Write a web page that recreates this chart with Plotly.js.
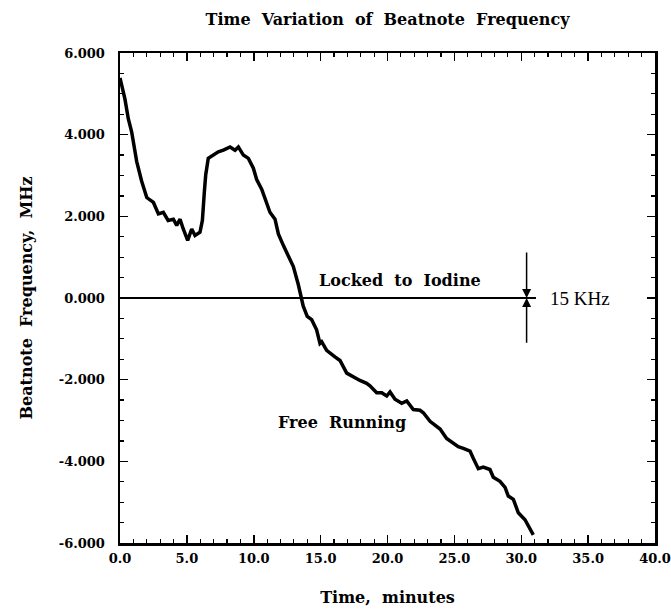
<!DOCTYPE html>
<html>
<head>
<meta charset="utf-8">
<script src="https://cdn.plot.ly/plotly-3.0.1.min.js"></script>
<style>html,body{margin:0;padding:0;background:#fff;}#chart{width:671px;height:612px;}</style>
</head>
<body>
<div id="chart"></div>
<script>
// Time in minutes
const timeMin = [0.0, 0.37, 0.62, 0.87, 1.25, 1.62, 2.0, 2.5, 2.87, 3.24, 3.6, 3.99, 4.24, 4.49, 4.73, 5.06, 5.36, 5.61, 5.98, 6.16, 6.31, 6.41, 6.6, 6.98, 7.35, 7.73, 8.23, 8.6, 8.85, 9.22, 9.6, 9.97, 10.22, 10.6, 10.84, 11.21, 11.59, 11.84, 12.21, 12.59, 12.96, 13.33, 13.58, 13.7, 14.0, 14.33, 14.7, 14.95, 15.08, 15.45, 16.07, 16.45, 16.95, 17.44, 17.94, 18.44, 18.69, 19.19, 19.57, 19.94, 20.19, 20.56, 21.06, 21.44, 21.93, 22.43, 22.68, 23.18, 23.93, 24.42, 24.92, 25.29, 25.67, 26.17, 26.42, 26.79, 27.16, 27.66, 27.91, 28.41, 28.79, 29.03, 29.41, 29.78, 30.28, 30.53, 30.9];
// Free-running beatnote frequency, MHz
const freeRunning = [5.39, 4.87, 4.39, 4.07, 3.34, 2.86, 2.46, 2.34, 2.06, 2.10, 1.90, 1.93, 1.78, 1.93, 1.69, 1.41, 1.69, 1.53, 1.61, 1.90, 2.62, 3.02, 3.42, 3.50, 3.58, 3.62, 3.70, 3.62, 3.70, 3.50, 3.42, 3.18, 2.90, 2.66, 2.42, 2.10, 1.93, 1.57, 1.29, 1.05, 0.77, 0.33, 0.01, -0.20, -0.45, -0.53, -0.78, -1.11, -1.07, -1.28, -1.44, -1.53, -1.84, -1.94, -2.02, -2.09, -2.15, -2.32, -2.32, -2.40, -2.30, -2.48, -2.58, -2.52, -2.73, -2.75, -2.81, -3.02, -3.21, -3.44, -3.56, -3.64, -3.68, -3.75, -3.93, -4.18, -4.14, -4.20, -4.39, -4.49, -4.64, -4.85, -4.93, -5.26, -5.43, -5.59, -5.80];
// Locked to iodine
const lockedTime = [0.0, 31.1];
const lockedFreq = [0.0, 0.0];
// Ticks
const xTickVals = [0, 5, 10, 15, 20, 25, 30, 35, 40];
const xTickText = ["0.0", "5.0", "10.0", "15.0", "20.0", "25.0", "30.0", "35.0", "40.0"];
const yTickVals = [-6, -4, -2, 0, 2, 4, 6];
const yTickText = ["-6.000", "-4.000", "-2.000", "0.000", "2.000", "4.000", "6.000"];

const boldFont = {family: "DejaVu Serif", size: 16, color: "#000", weight: 700};
const tickFont = {family: "DejaVu Serif", size: 13, color: "#000", weight: 700};

const traces = [
  {x: timeMin, y: freeRunning, mode: "lines", line: {color: "#000", width: 3.5}, hoverinfo: "skip", showlegend: false},
  {x: lockedTime, y: lockedFreq, mode: "lines", line: {color: "#000", width: 2}, hoverinfo: "skip", showlegend: false}
];

const layout = {
  width: 671, height: 612,
  margin: {l: 120, r: 16, t: 53, b: 69},
  paper_bgcolor: "#fff", plot_bgcolor: "#fff",
  showlegend: false,
  title: {text: "Time  Variation  of  Beatnote  Frequency", font: boldFont, x: 0.5, xref: "paper", xanchor: "center", y: 1 - 19/612, yref: "container", yanchor: "middle"},
  xaxis: {
    range: [0, 40], tickvals: xTickVals, ticktext: xTickText,
    ticks: "inside", ticklen: 8, tickwidth: 1.5, tickcolor: "#000",
    minor: {dtick: 1, ticks: "inside", ticklen: 4, tickwidth: 1.2, tickcolor: "#000"},
    showline: true, linecolor: "#000", linewidth: 2.5, mirror: "ticks",
    showgrid: false, zeroline: false, tickfont: tickFont, ticklabelstandoff: 2,
    title: {text: "Time,  minutes", font: boldFont, standoff: 27}
  },
  yaxis: {
    range: [-6, 6], tickvals: yTickVals, ticktext: yTickText,
    ticks: "inside", ticklen: 8, tickwidth: 1.5, tickcolor: "#000",
    minor: {dtick: 0.5, ticks: "inside", ticklen: 4, tickwidth: 1.2, tickcolor: "#000"},
    showline: true, linecolor: "#000", linewidth: 2.5, mirror: "ticks",
    showgrid: false, zeroline: false, tickfont: tickFont, ticklabelstandoff: 10,
    title: {text: "Beatnote  Frequency,  MHz", font: boldFont, standoff: 22}
  },
  annotations: [
    {x: 20.9, y: 0, xref: "x", yref: "y", yshift: 18, text: "Locked  to  Iodine", showarrow: false, font: boldFont, xanchor: "center", yanchor: "middle"},
    {x: 16.6, y: -3.06, xref: "x", yref: "y", text: "Free  Running", showarrow: false, font: boldFont, xanchor: "center", yanchor: "middle"},
    {x: 32.0, y: 0, xref: "x", yref: "y", text: "15 KHz", showarrow: false, font: {family: "Liberation Serif", size: 19, color: "#000"}, xanchor: "left", yanchor: "middle"},
    {x: 30.4, y: 0, xref: "x", yref: "y", ax: 30.4, ay: 1.15, axref: "x", ayref: "y", text: "", showarrow: true, arrowhead: 2, arrowsize: 1.2, arrowwidth: 1.5, arrowcolor: "#000"},
    {x: 30.4, y: 0, xref: "x", yref: "y", ax: 30.4, ay: -1.13, axref: "x", ayref: "y", text: "", showarrow: true, arrowhead: 2, arrowsize: 1.2, arrowwidth: 1.5, arrowcolor: "#000"}
  ]
};

Plotly.newPlot("chart", traces, layout, {staticPlot: true, displayModeBar: false});
</script>
</body>
</html>
